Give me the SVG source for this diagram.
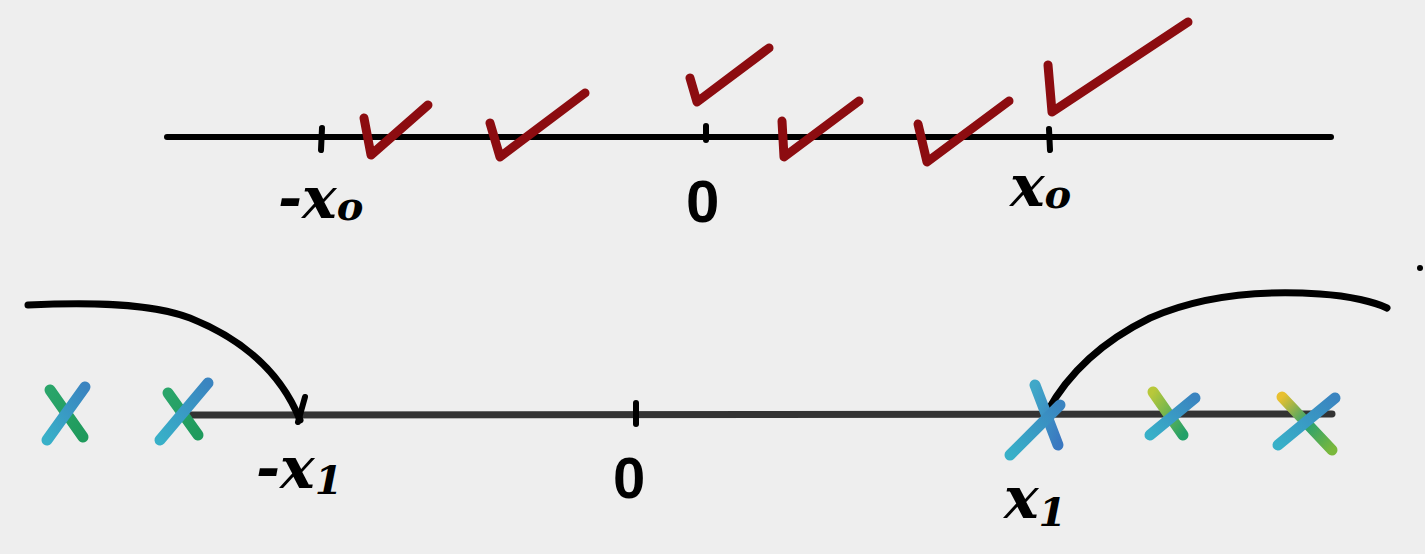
<svg xmlns="http://www.w3.org/2000/svg" width="1425" height="554" viewBox="0 0 1425 554">
<style>
.axis{stroke:#000;stroke-width:6;stroke-linecap:round;fill:none}
.axis2{stroke:#333;stroke-width:7;stroke-linecap:round;fill:none}
.tick{stroke:#000;stroke-width:6;stroke-linecap:round;fill:none}
.chk{stroke:#8c0c10;stroke-width:9;stroke-linecap:round;stroke-linejoin:round;fill:none}
.crv{stroke:#000;stroke-width:7;stroke-linecap:round;fill:none}
.x{stroke-width:11;stroke-linecap:round;fill:none}
.lbl{font-family:"DejaVu Serif","Liberation Serif",serif;font-style:italic;font-weight:bold;fill:#000}
.num{font-family:"Liberation Sans",Arial,sans-serif;font-weight:bold;fill:#000}
</style>
<defs>
<linearGradient id="gA" x1="0" y1="0" x2="1" y2="1"><stop offset="0" stop-color="#2aa56a"/><stop offset="1" stop-color="#1f9a5c"/></linearGradient>
<linearGradient id="gB" x1="1" y1="0" x2="0" y2="1"><stop offset="0" stop-color="#3a84c0"/><stop offset="1" stop-color="#38b0c8"/></linearGradient>
<linearGradient id="gC" x1="0" y1="0" x2="1" y2="1"><stop offset="0" stop-color="#b8c83a"/><stop offset="1" stop-color="#22a068"/></linearGradient>
<linearGradient id="gD" x1="0" y1="0" x2="1" y2="1"><stop offset="0" stop-color="#e8c030"/><stop offset="0.5" stop-color="#28a070"/><stop offset="1" stop-color="#7ab83c"/></linearGradient>
<linearGradient id="gE" x1="0" y1="0" x2="1" y2="1"><stop offset="0" stop-color="#40a8c8"/><stop offset="1" stop-color="#3a78c0"/></linearGradient>
</defs>
<rect width="1425" height="554" fill="#eeeeee"/>

<g id="top-axis">
<line class="axis" x1="167" y1="137" x2="1331" y2="137"/>
<line class="tick" x1="322" y1="128" x2="321" y2="150"/>
<line class="tick" x1="706" y1="126" x2="706" y2="140"/>
<line class="tick" x1="1049" y1="129" x2="1050" y2="150"/>
</g>

<g id="top-labels">
<text class="lbl" x="278" y="218" font-size="58">-x<tspan font-size="40" dy="2">o</tspan></text>
<text class="num" x="686" y="222" font-size="60">0</text>
<text class="lbl" x="1010" y="206" font-size="58">x<tspan font-size="40" dy="2">o</tspan></text>
</g>

<g id="checkmarks">
<polyline class="chk" points="364,118 371,155 428,105"/>
<polyline class="chk" points="490,123 500,157 585,93"/>
<polyline class="chk" points="690,78 697,102 769,48"/>
<polyline class="chk" points="782,121 784,157 859,101"/>
<polyline class="chk" points="918,124 927,162 1009,101"/>
<polyline class="chk" points="1048,65 1052,112 1188,22"/>
</g>

<g id="bottom-axis">
<line class="axis2" x1="186" y1="415" x2="1332" y2="414"/>
<line class="tick" x1="636" y1="403" x2="636" y2="424"/>
</g>

<g id="curves">
<path class="crv" d="M28,305 C90,302 150,303 190,318 C240,338 280,370 300,420"/>
<line class="tick" x1="305" y1="397" x2="298" y2="422"/>
<path class="crv" d="M1047,412 C1070,370 1105,340 1150,318 C1200,296 1260,290 1320,294 C1350,296 1375,302 1387,308"/>
</g>

<g id="crosses">
<line class="x" x1="50" y1="390" x2="83" y2="437" stroke="url(#gA)"/>
<line class="x" x1="85" y1="387" x2="47" y2="440" stroke="url(#gB)"/>
<line class="x" x1="168" y1="393" x2="198" y2="435" stroke="url(#gA)"/>
<line class="x" x1="208" y1="383" x2="160" y2="440" stroke="url(#gB)"/>
<line class="x" x1="1035" y1="385" x2="1058" y2="445" stroke="url(#gE)"/>
<line class="x" x1="1060" y1="405" x2="1010" y2="455" stroke="url(#gB)"/>
<line class="x" x1="1153" y1="392" x2="1183" y2="435" stroke="url(#gC)"/>
<line class="x" x1="1195" y1="398" x2="1150" y2="435" stroke="url(#gB)"/>
<line class="x" x1="1282" y1="397" x2="1332" y2="450" stroke="url(#gD)"/>
<line class="x" x1="1335" y1="398" x2="1278" y2="445" stroke="url(#gB)"/>
</g>

<g id="bottom-labels">
<text class="lbl" x="256" y="488" font-size="58">-x<tspan font-size="40" dy="6">1</tspan></text>
<text class="num" x="613" y="498" font-size="58">0</text>
<text class="lbl" x="1004" y="518" font-size="58">x<tspan font-size="40" dy="8">1</tspan></text>
</g>

<circle id="dot" cx="1420" cy="268" r="3" fill="#000"/>
</svg>
